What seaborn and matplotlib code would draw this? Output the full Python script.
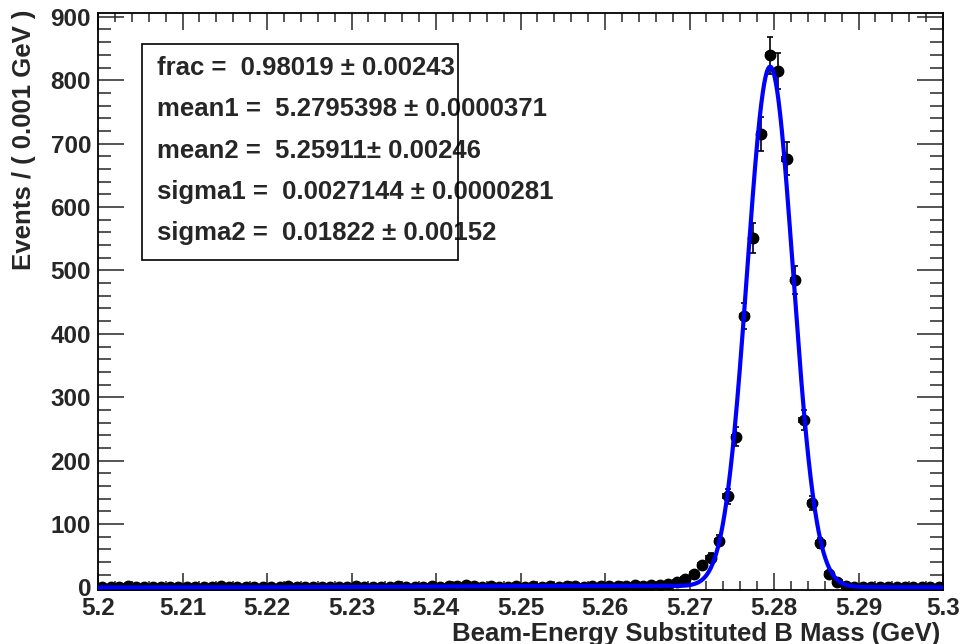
import numpy as np
import matplotlib
matplotlib.use("Agg")
import matplotlib.pyplot as plt
from matplotlib.patches import Rectangle
from matplotlib.ticker import MultipleLocator
import seaborn as sns

# Binned data: 100 bins of 0.001 GeV between 5.20 and 5.30 GeV
x_min, x_max = 5.20, 5.30
bin_width = 0.001
counts = [
    1, 0, 1, 2, 0, 1, 0, 1, 1, 0,
    0, 1, 0, 1, 2, 1, 0, 0, 1, 1,
    1, 0, 2, 1, 0, 1, 1, 0, 1, 0,
    2, 1, 0, 1, 1, 2, 0, 1, 1, 2,
    1, 2, 3, 4, 3, 1, 2, 1, 0, 2,
    1, 2, 1, 2, 1, 3, 2, 1, 3, 2,
    2, 3, 2, 4, 3, 4, 4, 6, 9, 13,
    22, 35, 47, 74, 144, 238, 428, 551, 715, 839,
    815, 676, 485, 264, 133, 70, 22, 8, 3, 1,
    1, 0, 0, 1, 0, 0, 1, 0, 0, 0,
]

# Double-Gaussian fit parameters
frac = 0.98019
mean1 = 5.2795398
mean2 = 5.25911
sigma1 = 0.0027144
sigma2 = 0.01822

param_lines = [
    "frac =  0.98019 \u00b1 0.00243",
    "mean1 =  5.2795398 \u00b1 0.0000371",
    "mean2 =  5.25911\u00b1 0.00246",
    "sigma1 =  0.0027144 \u00b1 0.0000281",
    "sigma2 =  0.01822 \u00b1 0.00152",
]

x_tick_labels = ["5.2", "5.21", "5.22", "5.23", "5.24", "5.25",
                 "5.26", "5.27", "5.28", "5.29", "5.3"]
x_label = "Beam-Energy Substituted B Mass (GeV)"
y_label = "Events / ( 0.001 GeV )"

sns.set_style("ticks")
plt.rcParams["font.family"] = ["Liberation Sans", "DejaVu Sans"]
plt.rcParams["font.weight"] = "bold"

counts_arr = np.array(counts, dtype=float)
centers = x_min + bin_width * (np.arange(len(counts)) + 0.5)
errors = np.sqrt(counts_arr)


def gauss(x, mu, sig):
    return np.exp(-0.5 * ((x - mu) / sig) ** 2) / (sig * np.sqrt(2 * np.pi))


xs = np.linspace(x_min, x_max, 2000)
pdf = frac * gauss(xs, mean1, sigma1) + (1 - frac) * gauss(xs, mean2, sigma2)
curve = counts_arr.sum() * bin_width * pdf

fig = plt.figure(figsize=(9.63, 6.44), dpi=100)
ax = fig.add_axes([98 / 963, 54 / 644, 845 / 963, 577 / 644])

ax.errorbar(centers, counts_arr, yerr=errors, xerr=bin_width / 2, fmt="o",
            color="black", markersize=7.5, elinewidth=1.2, capsize=2.5,
            capthick=1.2, zorder=2)
sns.lineplot(x=xs, y=curve, color="#0000ff", linewidth=3.0, ax=ax, zorder=3)

ax.set_xlim(x_min, x_max)
ax.set_ylim(-4, 906)

ax.set_xticks(np.round(np.arange(5.20, 5.3001, 0.01), 2))
ax.set_xticklabels(x_tick_labels)
ax.xaxis.set_minor_locator(MultipleLocator(0.002))
ax.yaxis.set_major_locator(MultipleLocator(100))
ax.yaxis.set_minor_locator(MultipleLocator(20))

ax.tick_params(axis="x", which="major", direction="in", length=12, width=1.1,
               top=True, labelsize=17.5, pad=5)
ax.tick_params(axis="x", which="minor", direction="in", length=6.5, width=1.1,
               top=True)
ax.tick_params(axis="y", which="major", direction="in", length=19, width=1.1,
               right=True, labelsize=17.5, pad=5)
ax.tick_params(axis="y", which="minor", direction="in", length=9.5, width=1.1,
               right=True)
for lab in ax.get_xticklabels() + ax.get_yticklabels():
    lab.set_fontweight("bold")

for sp in ax.spines.values():
    sp.set_linewidth(1.3)
    sp.set_color("black")

ax.set_xlabel(x_label, fontsize=18.5, fontweight="bold")
ax.xaxis.label.set_ha("right")
ax.xaxis.label.set_va("baseline")
ax.xaxis.set_label_coords(0.9965, -0.088)

ax.set_ylabel(y_label, fontsize=18.5, fontweight="bold")
ax.yaxis.label.set_ha("right")
ax.yaxis.label.set_va("center")
ax.yaxis.set_label_coords(-0.087, 1.006)

# Parameter box
box = Rectangle((142 / 963, 1 - 260 / 644), (458 - 142) / 963, (260 - 44) / 644,
                transform=fig.transFigure, fill=False, edgecolor="black",
                linewidth=1.2, zorder=5)
fig.patches.append(box)
for i, line in enumerate(param_lines):
    fig.text(157 / 963, 1 - (68 + 41.3 * i) / 644, line, fontsize=18.5,
             fontweight="bold", ha="left", va="center")

fig.savefig("out.png", dpi=100, facecolor="white")
